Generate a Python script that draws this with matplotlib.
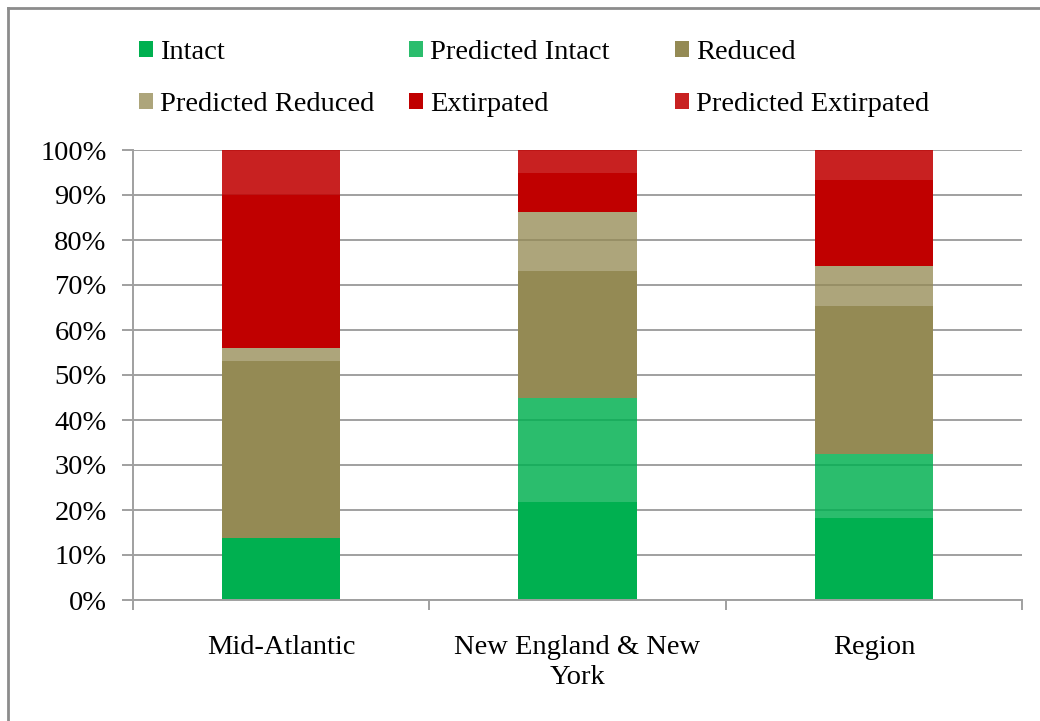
import numpy as np
import matplotlib
matplotlib.use("Agg")
import matplotlib.pyplot as plt
from matplotlib.lines import Line2D
from matplotlib.ticker import FixedLocator, PercentFormatter

regions = ["Mid-Atlantic", "New England & New\nYork", "Region"]
series = ["Intact", "Predicted Intact", "Reduced",
          "Predicted Reduced", "Extirpated", "Predicted Extirpated"]
intact = [13.8, 21.7, 18.3]
pred_intact = [0.0, 23.1, 14.1]
reduced = [39.3, 28.3, 32.9]
pred_reduced = [3.0, 13.2, 8.9]
extirpated = [33.9, 8.7, 19.1]
pred_extirpated = [10.0, 5.0, 6.9]

colors = ["#00B050", "#00B050", "#948A54", "#948A54", "#C00000", "#C00000"]
alphas = [1.0, 0.83, 1.0, 0.77, 1.0, 0.87]

plt.rcParams["font.family"] = ["Liberation Serif", "DejaVu Serif"]
fs = 20.5

fig = plt.figure(figsize=(10.4, 7.21), dpi=100)
ax = fig.add_axes([133 / 1040, 121 / 721, 889 / 1040, 450 / 721])

values = [intact, pred_intact, reduced, pred_reduced, extirpated, pred_extirpated]
x = np.arange(len(regions))
bottom = np.zeros(len(regions))
handles = []
for name, vals, c, a in zip(series, values, colors, alphas):
    vals = np.array(vals)
    b = ax.bar(x, vals, 0.4, bottom=bottom, color=c, alpha=a, label=name,
               linewidth=0, zorder=2)
    handles.append(b)
    bottom += vals

ax.set_xlim(-0.5, 2.5)
ax.set_ylim(0, 100)
ax.set_yticks(np.arange(0, 101, 10))
ax.yaxis.set_major_formatter(PercentFormatter(decimals=0))
ax.grid(axis="y", color="#A0A0A0", linewidth=1.4, zorder=0)
ax.set_axisbelow(True)

ax.set_xticks(x)
ax.set_xticklabels(regions, fontsize=fs, linespacing=1.3)
ax.xaxis.set_minor_locator(FixedLocator([-0.5, 0.5, 1.5, 2.5]))
ax.tick_params(axis="x", which="major", length=0, pad=25)
ax.tick_params(axis="x", which="minor", length=7, color="#A0A0A0", width=1.4)
ax.tick_params(axis="y", length=8, color="#A0A0A0", width=1.4, pad=11,
               labelsize=fs)

for side in ["top", "right"]:
    ax.spines[side].set_visible(False)
for side in ["left", "bottom"]:
    ax.spines[side].set_color("#A0A0A0")
    ax.spines[side].set_linewidth(1.4)

# legend: three columns, two rows, placed like the original
cols = [[0, 3], [1, 4], [2, 5]]
col_x = [139, 409, 675]
for idx, cx in zip(cols, col_x):
    fig.legend([handles[i] for i in idx], [series[i] for i in idx],
               loc="upper left", bbox_to_anchor=(cx / 1040, 1 - 40 / 721),
               frameon=False, fontsize=fs, handlelength=0.48,
               handleheight=0.48, handletextpad=0.25, labelspacing=0.95,
               borderpad=0, borderaxespad=0)

# chart border
fig.add_artist(Line2D([8 / 1040, 8 / 1040], [0, 1 - 8 / 721],
                      transform=fig.transFigure, color="#8C8C8C", lw=2))
fig.add_artist(Line2D([8 / 1040, 1], [1 - 8 / 721, 1 - 8 / 721],
                      transform=fig.transFigure, color="#8C8C8C", lw=2))

fig.savefig("out.png", dpi=100)
